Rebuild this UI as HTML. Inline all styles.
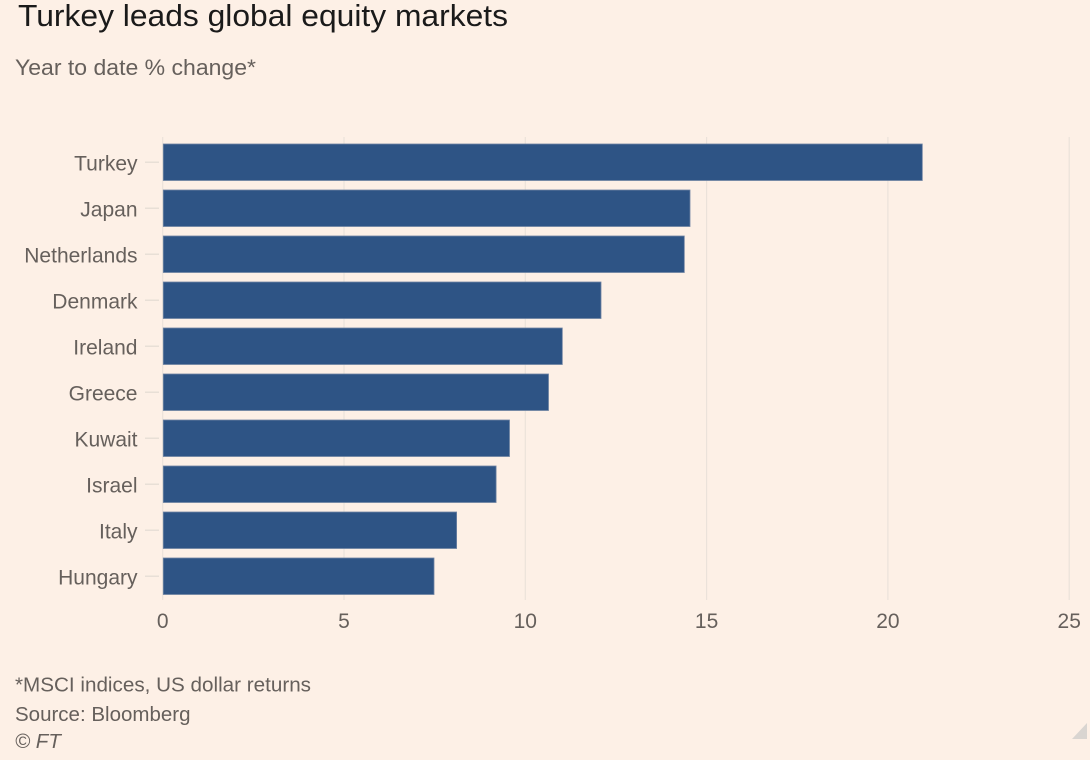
<!DOCTYPE html>
<html>
<head>
<meta charset="utf-8">
<style>
  html, body { margin:0; padding:0; }
  body { width:1090px; height:760px; background:#fdf0e6; overflow:hidden; }
  svg { display:block; }
  text { font-family: "Liberation Sans", "DejaVu Sans", sans-serif; }
</style>
</head>
<body>
<svg width="1090" height="760" viewBox="0 0 1090 760" xmlns="http://www.w3.org/2000/svg">
  <rect x="0" y="0" width="1090" height="760" fill="#fdf0e6"/>

  <!-- Title -->
  <text x="18" y="26" font-size="31" fill="#1a1a1a" textLength="490" lengthAdjust="spacingAndGlyphs">Turkey leads global equity markets</text>
  <text x="15" y="75" font-size="22" fill="#66605c" textLength="241" lengthAdjust="spacingAndGlyphs">Year to date % change*</text>

  <!-- Gridlines -->
  <g stroke="#ebe2da" stroke-width="1.2">
    <line x1="162.7" y1="137" x2="162.7" y2="600"/>
    <line x1="344" y1="137" x2="344" y2="600"/>
    <line x1="525.3" y1="137" x2="525.3" y2="600"/>
    <line x1="706.6" y1="137" x2="706.6" y2="600"/>
    <line x1="887.9" y1="137" x2="887.9" y2="600"/>
    <line x1="1069.2" y1="137" x2="1069.2" y2="600"/>
  </g>

  <!-- Category ticks -->
  <g stroke="#e3dbd3" stroke-width="1.2">
    <line x1="145" y1="162.2" x2="159" y2="162.2"/>
    <line x1="145" y1="208.2" x2="159" y2="208.2"/>
    <line x1="145" y1="254.2" x2="159" y2="254.2"/>
    <line x1="145" y1="300.2" x2="159" y2="300.2"/>
    <line x1="145" y1="346.2" x2="159" y2="346.2"/>
    <line x1="145" y1="392.2" x2="159" y2="392.2"/>
    <line x1="145" y1="438.2" x2="159" y2="438.2"/>
    <line x1="145" y1="484.2" x2="159" y2="484.2"/>
    <line x1="145" y1="530.2" x2="159" y2="530.2"/>
    <line x1="145" y1="576.2" x2="159" y2="576.2"/>
  </g>

  <!-- Bars -->
  <g fill="#2e5485" stroke="#6f84a3" stroke-width="0.8">
    <rect x="163.3" y="144" width="759" height="36.5"/>
    <rect x="163.3" y="190" width="526.7" height="36.5"/>
    <rect x="163.3" y="236" width="521" height="36.5"/>
    <rect x="163.3" y="282" width="437.7" height="36.5"/>
    <rect x="163.3" y="328" width="399" height="36.5"/>
    <rect x="163.3" y="374" width="385.2" height="36.5"/>
    <rect x="163.3" y="420" width="346.2" height="36.5"/>
    <rect x="163.3" y="466" width="332.8" height="36.5"/>
    <rect x="163.3" y="512" width="293.3" height="36.5"/>
    <rect x="163.3" y="558" width="270.7" height="36.5"/>
  </g>

  <!-- Category labels -->
  <g font-size="21" fill="#66605c" text-anchor="end">
    <text x="137.5" y="170.5">Turkey</text>
    <text x="137.5" y="216.5">Japan</text>
    <text x="137.5" y="262.5">Netherlands</text>
    <text x="137.5" y="308.5">Denmark</text>
    <text x="137.5" y="354.5">Ireland</text>
    <text x="137.5" y="400.5">Greece</text>
    <text x="137.5" y="446.5">Kuwait</text>
    <text x="137.5" y="492.5">Israel</text>
    <text x="137.5" y="538.5">Italy</text>
    <text x="137.5" y="584.5">Hungary</text>
  </g>

  <!-- X tick labels -->
  <g font-size="21" fill="#66605c" text-anchor="middle">
    <text x="162.7" y="628">0</text>
    <text x="344" y="628">5</text>
    <text x="525.3" y="628">10</text>
    <text x="706.6" y="628">15</text>
    <text x="887.9" y="628">20</text>
    <text x="1069.2" y="628">25</text>
  </g>

  <!-- Footer -->
  <g font-size="20.5" fill="#66605c">
    <text x="15" y="691.5" textLength="296" lengthAdjust="spacingAndGlyphs">*MSCI indices, US dollar returns</text>
    <text x="15" y="721">Source: Bloomberg</text>
    <text x="15" y="748" font-style="italic">© FT</text>
  </g>

  <!-- Corner resize triangle -->
  <polygon points="1087,723 1087,739 1072,739" fill="#d9d5d1"/>
</svg>
</body>
</html>
